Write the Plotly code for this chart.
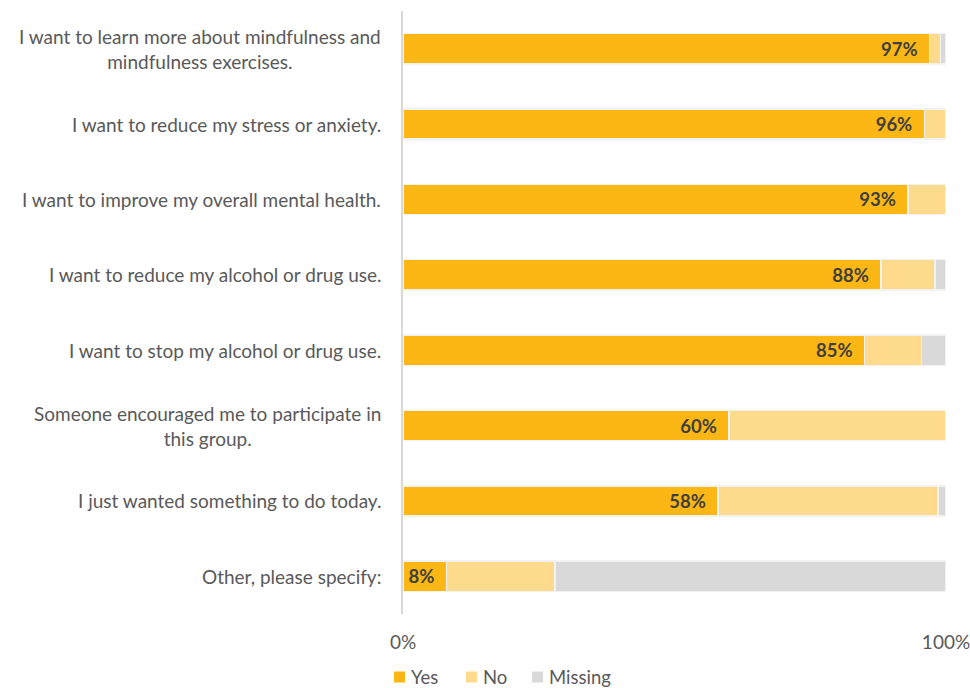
import plotly.graph_objects as go

# Survey: reasons for joining the group (share of respondents)
categories = [
    "I want to learn more about mindfulness and<br>mindfulness exercises.",
    "I want to reduce my stress or anxiety.",
    "I want to improve my overall mental health.",
    "I want to reduce my alcohol or drug use.",
    "I want to stop my alcohol or drug use.",
    "Someone encouraged me to participate in<br>this group.",
    "I just wanted something to do today.",
    "Other, please specify:",
]
yes_vals = [97, 96, 93, 88, 85, 60, 58, 8]
no_vals = [2, 4, 7, 10, 10.5, 40, 40.5, 20]
missing_vals = [1, 0, 0, 2, 4.5, 0, 1.5, 72]
series_names = ["Yes", "No", "Missing"]

x_tick_vals = [0, 100]
x_tick_text = ["0%", "100%"]

series_colors = {"Yes": "#FDB714", "No": "#FEDB8C", "Missing": "#D9D9D9"}
font_family = "Lato, 'Open Sans', sans-serif"
label_color = "#595959"
outline = dict(color="#F2F2F2", width=1.5)

# Plot-area geometry in pixels (used to place the custom legend)
W, H = 970, 688
M_L, M_R, M_T, M_B = 403, 24, 11, 74
PW, PH = W - M_L - M_R, H - M_T - M_B


def px_x(p):
    return (p - M_L) / PW


def px_y(p):
    return (H - M_B - p) / PH


# Value labels right-aligned inside the Yes bars, with a little end padding
yes_labels = [f"{v}%&nbsp;&nbsp;" for v in yes_vals]

fig = go.Figure()
fig.add_trace(go.Bar(
    name="Yes", y=categories, x=yes_vals, orientation="h",
    marker=dict(color=series_colors["Yes"], line=outline),
    text=yes_labels, textposition="inside", insidetextanchor="end",
    textfont=dict(family=font_family, size=18.5, color="#404040", weight="bold"),
    hoverinfo="skip", showlegend=False,
))
fig.add_trace(go.Bar(
    name="No", y=categories, x=no_vals, orientation="h",
    marker=dict(color=series_colors["No"], line=outline),
    hoverinfo="skip", showlegend=False,
))
fig.add_trace(go.Bar(
    name="Missing", y=categories, x=missing_vals, orientation="h",
    marker=dict(color=series_colors["Missing"], line=outline),
    hoverinfo="skip", showlegend=False,
))

# Category labels drawn as centred multi-line annotations left of the axis
for cat in categories:
    fig.add_annotation(
        x=0, xref="paper", y=cat, yref="y",
        text=cat, showarrow=False, xanchor="right", xshift=-20,
        align="center", font=dict(family=font_family, size=19, color=label_color),
    )

# Legend row below the axis: coloured square + series name
legend_square_left = [394, 466, 532]
legend_square_size = 11
legend_center_y = 677
for name, left in zip(series_names, legend_square_left):
    fig.add_shape(
        type="rect", xref="paper", yref="paper",
        x0=px_x(left), x1=px_x(left + legend_square_size),
        y0=px_y(legend_center_y + legend_square_size / 2),
        y1=px_y(legend_center_y - legend_square_size / 2),
        fillcolor=series_colors[name], line=dict(width=0),
    )
    fig.add_annotation(
        x=px_x(left + legend_square_size + 4), xref="paper",
        y=px_y(legend_center_y), yref="paper",
        text=name, showarrow=False, xanchor="left", yanchor="middle",
        font=dict(family=font_family, size=18.5, color=label_color),
    )

fig.update_layout(
    barmode="stack",
    bargap=0.6,
    width=W, height=H,
    margin=dict(l=M_L, r=M_R, t=M_T, b=M_B),
    paper_bgcolor="white", plot_bgcolor="white",
    font=dict(family=font_family, color=label_color),
    uniformtext=dict(minsize=18, mode="show"),
    showlegend=False,
)
fig.update_xaxes(
    range=[0, 100], tickvals=x_tick_vals, ticktext=x_tick_text,
    showgrid=False, zeroline=False, showline=False, automargin=False,
    ticklabeloverflow="allow",
    tickfont=dict(family=font_family, size=19, color=label_color),
    ticklabelstandoff=15, fixedrange=True,
)
fig.update_yaxes(
    categoryorder="array", categoryarray=categories[::-1],
    showticklabels=False, showgrid=False, zeroline=False, automargin=False,
    showline=True, linecolor="#D9D9D9", linewidth=2, fixedrange=True,
)

fig.write_html("out.html")
